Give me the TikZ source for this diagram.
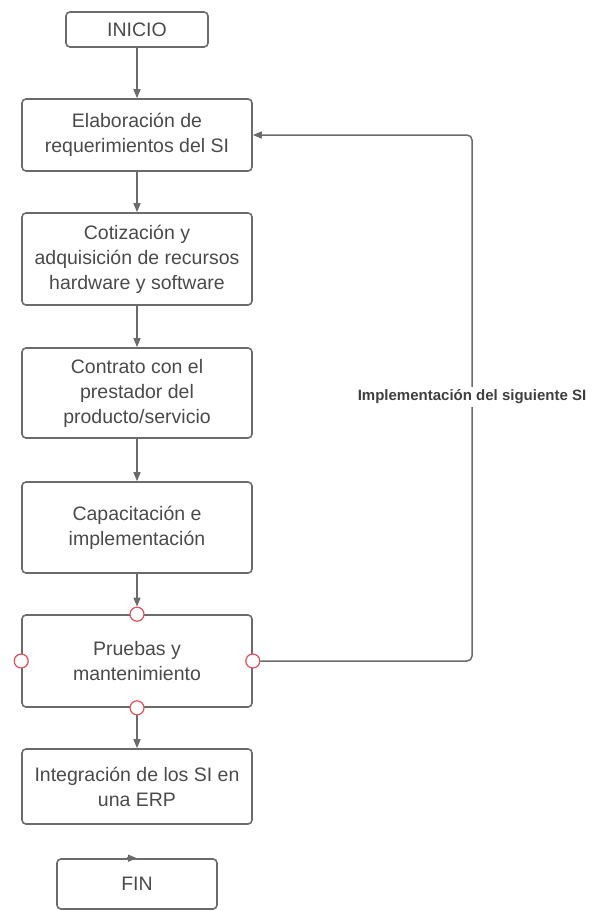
\documentclass[tikz,border=0pt]{standalone}
\usepackage{fontspec}
\setsansfont{Liberation Sans}
\usetikzlibrary{arrows.meta, positioning}
\definecolor{cline}{HTML}{6B6B6B}
\definecolor{ctext}{HTML}{4A4A4A}
\definecolor{cred}{HTML}{E5505A}
\tikzset{
  every picture/.style={font=\sffamily, line width=1.6pt},
  box/.style={draw=cline, rounded corners=4pt, align=center, text=ctext, minimum width=230pt, inner sep=2pt, font=\sffamily\fontsize{19.5}{25}\selectfont},
  arrow/.style={-{Triangle[length=9pt, width=7pt]}, draw=cline, line width=1.5pt},
  port/.style={circle, draw=cred, fill=white, line width=1.2pt, minimum size=14pt, inner sep=0pt},
  note/.style={font=\sffamily\bfseries\fontsize{15}{18}\selectfont, text=ctext!85!black, fill=white, inner sep=3pt},
}

\begin{document}
\begin{tikzpicture}[x=1pt, y=-1pt]
  \useasboundingbox (0,0) rectangle (592,911);
  % main column
  \node[box, minimum width=142pt, minimum height=35pt] (inicio) at (137,29.5) {INICIO};
  \node[box, minimum height=72pt] (elab) at (137,135) {Elaboración de\\ requerimientos del SI};
  \node[box, minimum height=92pt] (cotiz) at (137,259) {Cotización y\\ adquisición de recursos\\ hardware y software};
  \node[box, minimum height=90pt] (contr) at (137,393) {Contrato con el\\ prestador del\\ producto/servicio};
  \node[box, minimum height=91pt] (capac) at (137,527.5) {Capacitación e\\ implementación};
  \node[box, minimum height=92pt] (prueb) at (137,661) {Pruebas y\\ mantenimiento};
  \node[box, minimum height=75pt] (integ) at (137,786.5) {Integración de los SI en\\ una ERP};
  \node[box, minimum width=160pt, minimum height=50pt] (fin) at (137,884) {FIN};
  % connection points on the test box
  \node[port] (pn) at (prueb.north) {};
  \node[port] (ps) at (prueb.south) {};
  \node[port] (pw) at (prueb.west) {};
  \node[port] (pe) at (prueb.east) {};
  % flow
  \draw[arrow] (inicio) -- (elab);
  \draw[arrow] (elab) -- (cotiz);
  \draw[arrow] (cotiz) -- (contr);
  \draw[arrow] (contr) -- (capac);
  \draw[arrow] (capac) -- (pn.north);
  \draw[arrow] (ps.south) -- (integ);
  \draw[arrow] ([xshift=-10pt]fin.north) -- (fin.north);
  % loop back
  \coordinate (back) at (472,397);
  \draw[arrow, rounded corners=5pt] (pe.east) -| (back) |- (elab.east);
  \node[note] (loopnote) at (back) {Implementación del siguiente SI};
\end{tikzpicture}
\end{document}
